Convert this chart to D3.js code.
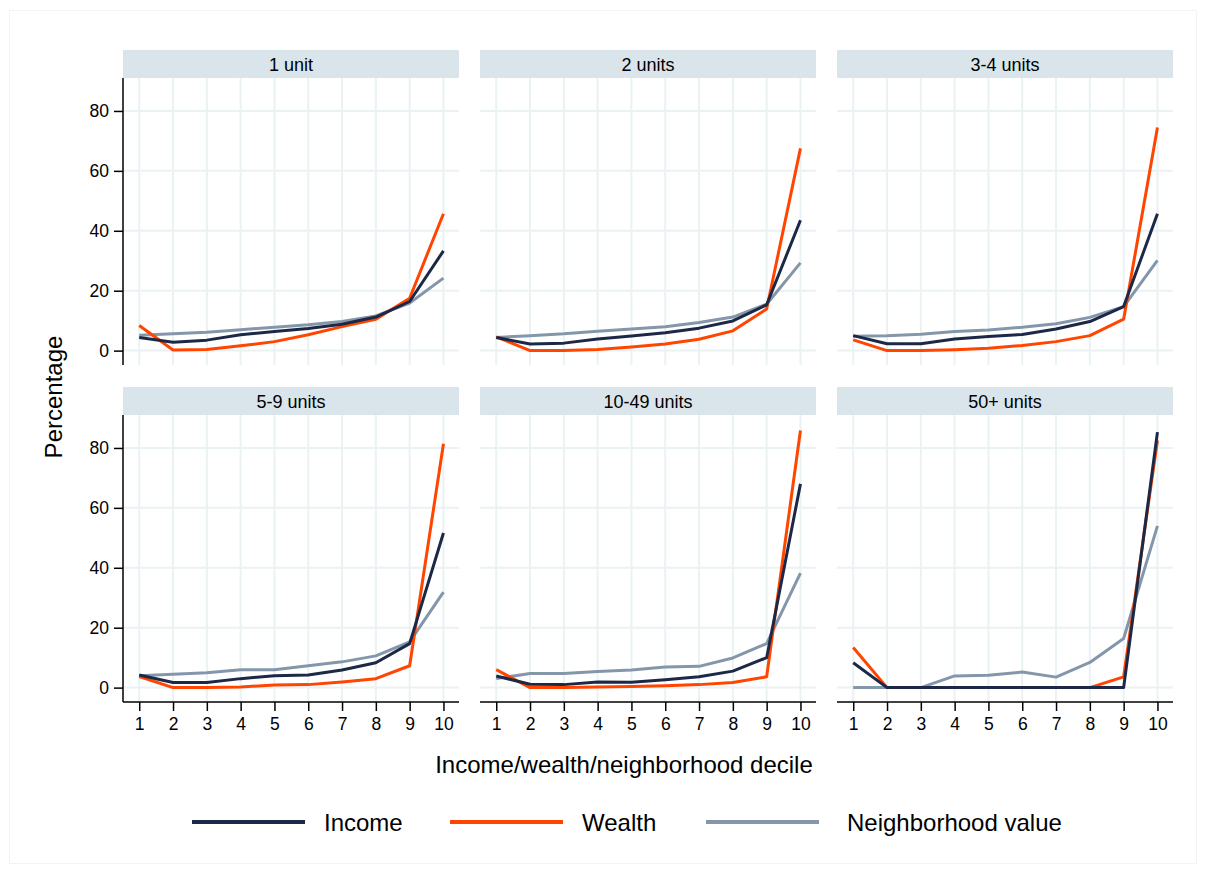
<!DOCTYPE html>
<html>
<head>
<meta charset="utf-8">
<script src="https://cdn.jsdelivr.net/npm/d3@7"></script>
<style>
  body { margin: 0; background: #fff; }
  text { font-family: "Liberation Sans", Arial, sans-serif; fill: #000; }
</style>
</head>
<body>
<svg id="chart" width="1206" height="874"></svg>
<script>
// Datos
const deciles = [1, 2, 3, 4, 5, 6, 7, 8, 9, 10];
const panelNames = ["1 unit", "2 units", "3-4 units", "5-9 units", "10-49 units", "50+ units"];
const seriesNames = ["Income", "Wealth", "Neighborhood value"];
const yTicks = [0, 20, 40, 60, 80];

const incomeData = [
  [4.4, 2.8, 3.5, 5.3, 6.4, 7.4, 8.8, 11.2, 16.4, 33.3],
  [4.4, 2.2, 2.5, 3.9, 4.9, 6.0, 7.5, 9.9, 15.3, 43.5],
  [5.0, 2.3, 2.3, 3.9, 4.7, 5.4, 7.2, 9.7, 14.7, 45.7],
  [4.2, 1.7, 1.7, 3.0, 4.0, 4.2, 5.9, 8.3, 14.7, 51.6],
  [3.9, 1.1, 1.0, 1.9, 1.8, 2.6, 3.6, 5.5, 10.0, 68.0],
  [8.3, 0, 0, 0, 0, 0, 0, 0, 0, 85.3]
];
const wealthData = [
  [8.4, 0.2, 0.4, 1.6, 3.0, 5.3, 8.0, 10.5, 17.5, 45.7],
  [4.6, 0, 0, 0.4, 1.2, 2.2, 3.8, 6.6, 13.9, 67.5],
  [3.6, 0, 0, 0.3, 0.8, 1.7, 3.0, 5.0, 10.5, 74.5],
  [3.7, 0, 0, 0.2, 0.9, 1.0, 1.9, 3.0, 7.3, 81.4],
  [6.0, 0, 0, 0.2, 0.4, 0.6, 1.0, 1.7, 3.6, 85.8],
  [13.4, 0, 0, 0, 0, 0, 0, 0, 3.6, 82.5]
];
const neighborhoodData = [
  [5.1, 5.6, 6.1, 7.0, 7.8, 8.6, 9.7, 11.6, 15.9, 24.2],
  [4.4, 5.0, 5.6, 6.5, 7.2, 8.0, 9.4, 11.2, 15.5, 29.3],
  [4.8, 5.0, 5.5, 6.4, 6.9, 7.8, 9.0, 11.1, 14.7, 30.1],
  [4.0, 4.5, 5.0, 6.0, 6.0, 7.3, 8.6, 10.6, 15.3, 31.9],
  [3.0, 4.7, 4.7, 5.4, 5.9, 6.9, 7.1, 9.9, 14.7, 38.2],
  [0, 0, 0, 3.9, 4.1, 5.2, 3.5, 8.4, 16.4, 54.0]
];

const svg = d3.select("#chart");
const colors = ["#1c2846", "#ff4500", "#8497aa"];

// Borde exterior muy suave
svg.append("rect")
  .attr("x", 9.5).attr("y", 10.5)
  .attr("width", 1187).attr("height", 853)
  .attr("fill", "none").attr("stroke", "#f3f3f3");

const colLeft = [123, 480, 837];
const rowTop = [50, 387];
const panelW = 336;
const stripH = 28;
const plotH = 287;

const x = d3.scaleLinear().domain([0.52, 10.46]).range([0, panelW]);
const y = d3.scaleLinear().domain([-4.8, 91]).range([plotH, 0]);

const line = d3.line()
  .x((d, i) => x(deciles[i]))
  .y(d => y(d));

panelNames.forEach((name, p) => {
  const col = p % 3;
  const row = Math.floor(p / 3);
  const g = svg.append("g")
    .attr("transform", `translate(${colLeft[col]},${rowTop[row]})`);

  // Tira de título
  g.append("rect")
    .attr("x", 0).attr("y", 0)
    .attr("width", panelW).attr("height", stripH)
    .attr("fill", "#d9e5eb");
  g.append("text")
    .attr("x", panelW / 2).attr("y", stripH / 2 + 6.5)
    .attr("text-anchor", "middle")
    .attr("font-size", 18)
    .text(name);

  const plot = g.append("g").attr("transform", `translate(0,${stripH})`);

  // Rejilla
  plot.selectAll(".vgrid")
    .data(deciles)
    .enter()
    .append("line")
    .attr("x1", d => x(d)).attr("x2", d => x(d))
    .attr("y1", 0).attr("y2", plotH)
    .attr("stroke", "#eaf2f4").attr("stroke-width", 2);
  plot.selectAll(".hgrid")
    .data(yTicks)
    .enter()
    .append("line")
    .attr("x1", 0).attr("x2", panelW)
    .attr("y1", d => y(d)).attr("y2", d => y(d))
    .attr("stroke", "#eaf2f4").attr("stroke-width", 2);

  // Ejes
  if (col === 0) {
    const ax = plot.append("g")
      .call(d3.axisLeft(y).tickValues(yTicks).tickSize(9).tickPadding(5));
    ax.select(".domain").attr("stroke", "#000").attr("stroke-width", 1.5)
      .attr("d", `M0,0V${plotH}`);
    ax.selectAll(".tick line").attr("stroke", "#000").attr("stroke-width", 1.5);
    ax.selectAll(".tick text")
      .attr("font-size", 17.5)
      .attr("font-family", "Liberation Sans, Arial, sans-serif")
      .attr("fill", "#000");
  }
  if (row === 1) {
    const ax = plot.append("g")
      .attr("transform", `translate(0,${plotH})`)
      .call(d3.axisBottom(x).tickValues(deciles).tickSize(9).tickPadding(7));
    ax.select(".domain").attr("stroke", "#000").attr("stroke-width", 1.5)
      .attr("d", `M0,0H${panelW}`);
    ax.selectAll(".tick line").attr("stroke", "#000").attr("stroke-width", 1.5);
    ax.selectAll(".tick text")
      .attr("font-size", 17.5)
      .attr("font-family", "Liberation Sans, Arial, sans-serif")
      .attr("fill", "#000");
  }

  // Líneas (orden de dibujo: vecindario, riqueza, ingreso encima)
  const series = [incomeData[p], wealthData[p], neighborhoodData[p]];
  [2, 1, 0].forEach(s => {
    plot.append("path")
      .datum(series[s])
      .attr("fill", "none")
      .attr("stroke", colors[s])
      .attr("stroke-width", 3)
      .attr("stroke-linejoin", "round")
      .attr("d", line);
  });
});

// Títulos de ejes
svg.append("text")
  .attr("transform", "translate(62,397) rotate(-90)")
  .attr("text-anchor", "middle")
  .attr("font-size", 24)
  .text("Percentage");

svg.append("text")
  .attr("x", 624).attr("y", 773)
  .attr("text-anchor", "middle")
  .attr("font-size", 24)
  .text("Income/wealth/neighborhood decile");

// Leyenda
const legendX = [192, 450, 706];
const legendTextX = [324, 582, 847];
seriesNames.forEach((name, i) => {
  svg.append("line")
    .attr("x1", legendX[i]).attr("x2", legendX[i] + 113)
    .attr("y1", 822).attr("y2", 822)
    .attr("stroke", colors[i]).attr("stroke-width", 4);
  svg.append("text")
    .attr("x", legendTextX[i]).attr("y", 831)
    .attr("font-size", 24)
    .text(name);
});
</script>
</body>
</html>
